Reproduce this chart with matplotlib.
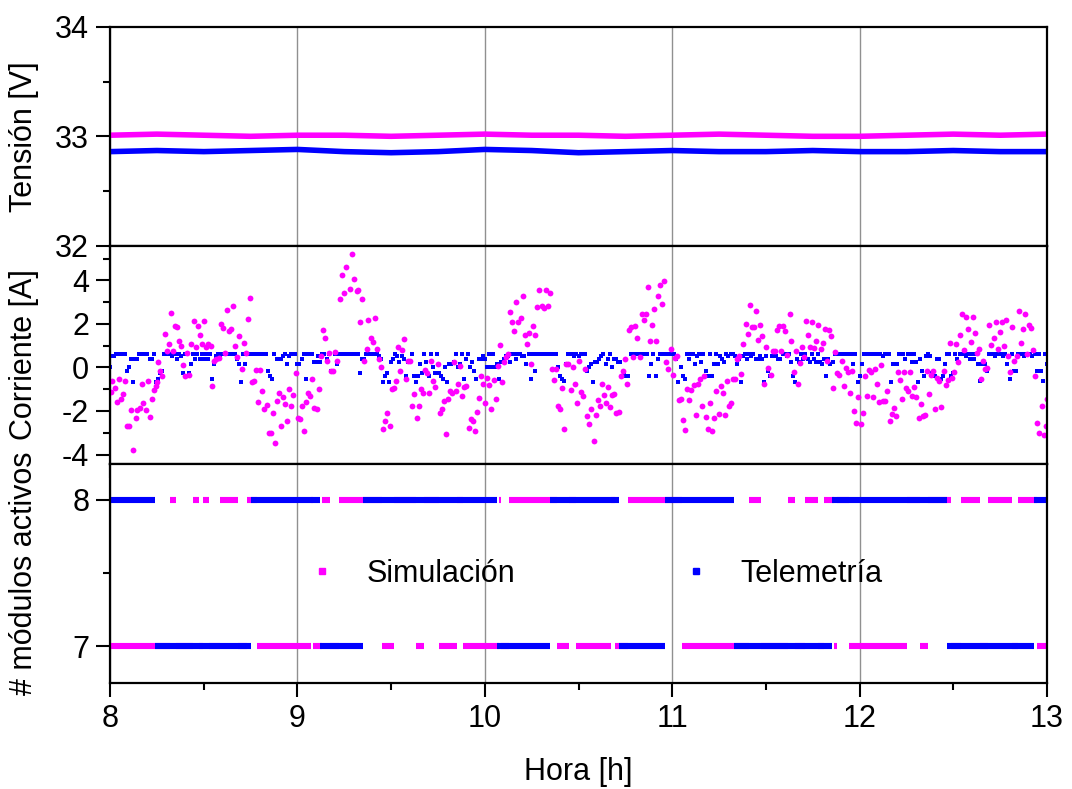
import matplotlib
matplotlib.use("Agg")
import matplotlib.pyplot as plt
import numpy as np
from matplotlib.lines import Line2D

plt.rcParams['font.family'] = ['Liberation Sans', 'DejaVu Sans']
plt.rcParams['axes.unicode_minus'] = False

MAGENTA = '#ff00ff'
BLUE = '#0000ff'

# ---- Tension [V] (sampled every 15 min) ----
volt_t = [8.0, 8.25, 8.5, 8.75, 9.0, 9.25, 9.5, 9.75, 10.0, 10.25, 10.5,
          10.75, 11.0, 11.25, 11.5, 11.75, 12.0, 12.25, 12.5, 12.75, 13.0]
volt_sim = [33.01, 33.02, 33.01, 33.00, 33.01, 33.01, 33.00, 33.01, 33.02, 33.01, 33.01,
            33.00, 33.01, 33.02, 33.01, 33.00, 33.00, 33.01, 33.02, 33.01, 33.02]
volt_tel = [32.86, 32.87, 32.86, 32.87, 32.88, 32.86, 32.85, 32.86, 32.88, 32.87, 32.85,
            32.86, 32.87, 32.86, 32.86, 32.87, 32.86, 32.86, 32.87, 32.86, 32.86]

# ---- Corriente [A], simulacion (hora, A) ----
curr_sim = [
    (8.007, -1.13), (8.012, -0.60), (8.025, -0.95), (8.037, -1.59), (8.046, -0.55),
    (8.057, -1.47), (8.069, -1.24), (8.078, -0.64), (8.091, -2.71), (8.101, -2.67),
    (8.112, -1.96), (8.123, -3.77), (8.137, -2.33), (8.146, -1.95), (8.158, -1.84),
    (8.169, -0.74), (8.178, -1.64), (8.190, -1.96), (8.203, -0.61), (8.213, -2.28),
    (8.224, -1.47), (8.235, -1.03), (8.244, -0.83), (8.249, -0.67), (8.258, 0.26),
    (8.269, -0.15), (8.278, -0.41), (8.292, 1.55), (8.302, 0.74), (8.313, 1.06),
    (8.324, 2.50), (8.336, 0.74), (8.345, 1.90), (8.358, 1.87), (8.368, 1.21),
    (8.381, 1.00), (8.391, 0.12), (8.402, -0.38), (8.413, 0.67), (8.423, -0.34),
    (8.434, 1.06), (8.447, 2.13), (8.457, 0.93), (8.468, 1.90), (8.479, 1.47),
    (8.491, 1.06), (8.503, 2.13), (8.514, 0.95), (8.525, 1.09), (8.537, 1.01),
    (8.546, -0.83), (8.555, 0.32), (8.567, 0.40), (8.580, 0.44), (8.591, 2.01),
    (8.603, 1.82), (8.612, 0.66), (8.624, 2.62), (8.635, 1.69), (8.646, 1.75),
    (8.658, 2.82), (8.669, 0.98), (8.680, 0.49), (8.690, 1.43), (8.703, -0.08),
    (8.713, 1.13), (8.724, 0.67), (8.735, 2.24), (8.747, 3.20), (8.758, -0.69),
    (8.768, -0.64), (8.779, -0.11), (8.792, -1.58), (8.802, -0.12), (8.813, -1.07),
    (8.824, -1.92), (8.836, -1.73), (8.847, -2.99), (8.857, -2.99), (8.868, -2.08),
    (8.879, -3.46), (8.891, -1.53), (8.902, -1.16), (8.913, -2.71), (8.925, -1.36),
    (8.936, -1.67), (8.946, -2.48), (8.957, -1.01), (8.968, -1.78), (8.978, -1.27),
    (8.991, -0.25), (9.003, -2.33), (9.014, -2.38), (9.025, -1.78), (9.037, -2.91),
    (9.048, -1.58), (9.058, -1.15), (9.069, -1.30), (9.080, -0.51), (9.091, -1.84),
    (9.103, -1.89), (9.114, -0.98), (9.124, 0.52), (9.135, 1.72), (9.146, 1.36),
    (9.158, 0.32), (9.169, 0.66), (9.179, -0.17), (9.192, -0.15), (9.203, 0.72),
    (9.213, 0.31), (9.226, 3.16), (9.236, 4.26), (9.247, 3.43), (9.258, 4.60),
    (9.281, 3.62), (9.290, 5.21), (9.304, 4.05), (9.316, 3.52), (9.325, 3.57),
    (9.336, 2.10), (9.347, 3.17), (9.357, 0.31), (9.370, 0.86), (9.379, 2.18),
    (9.391, 1.35), (9.402, 1.18), (9.412, 2.28), (9.425, 0.84), (9.437, 0.40),
    (9.446, 0.00), (9.459, -2.85), (9.469, -2.48), (9.480, -2.08), (9.492, -2.67),
    (9.503, -1.01), (9.514, -0.95), (9.524, -0.63), (9.535, 0.92), (9.548, -0.14),
    (9.558, 0.81), (9.571, 1.32), (9.580, -0.51), (9.592, 0.32), (9.603, 0.29),
    (9.613, -1.76), (9.624, -1.21), (9.636, -2.30), (9.647, -1.76), (9.660, -0.98),
    (9.670, -1.16), (9.681, -0.11), (9.693, -0.26), (9.704, -1.16), (9.715, 0.29),
    (9.725, -0.60), (9.736, -0.89), (9.749, 0.14), (9.759, -2.08), (9.770, -1.90),
    (9.781, -1.56), (9.791, -3.08), (9.804, -1.43), (9.814, -1.07), (9.825, -1.18),
    (9.836, 0.26), (9.846, -1.07), (9.859, -0.75), (9.870, 0.09), (9.880, -1.32),
    (9.891, -0.89), (9.902, -0.84), (9.914, -2.77), (9.925, -2.36), (9.935, -2.47),
    (9.946, -2.91), (9.958, -2.05), (9.969, -1.39), (9.980, -0.40), (9.991, -0.77),
    (10.003, -1.61), (10.014, -0.49), (10.024, -0.80), (10.035, -1.90), (10.047, -0.58),
    (10.058, -1.46), (10.069, 0.09), (10.080, 1.04), (10.092, -0.67), (10.103, 0.25),
    (10.113, 0.46), (10.124, 0.63), (10.135, 2.56), (10.147, 2.11), (10.158, 1.69),
    (10.168, 3.03), (10.179, 2.11), (10.192, 2.28), (10.202, 3.28), (10.213, 1.50),
    (10.224, 1.09), (10.234, 1.58), (10.247, 0.17), (10.259, 1.90), (10.268, 1.47),
    (10.279, 2.79), (10.291, 3.57), (10.304, 2.84), (10.314, 2.74), (10.325, 3.56),
    (10.336, 2.84), (10.348, 3.42), (10.359, -0.08), (10.369, -0.58), (10.380, -0.08),
    (10.393, -1.78), (10.403, -1.92), (10.414, -0.95), (10.425, -2.85), (10.435, 0.14),
    (10.446, 0.18), (10.458, -1.03), (10.469, 0.00), (10.480, -0.77), (10.492, -1.64),
    (10.503, 0.29), (10.514, -1.13), (10.524, -1.30), (10.533, -0.06), (10.547, -2.24),
    (10.558, -2.59), (10.568, -1.93), (10.581, -3.40), (10.592, -2.19), (10.602, -1.49),
    (10.615, -1.79), (10.625, -0.74), (10.636, -1.27), (10.647, -1.62), (10.659, -0.92),
    (10.670, -1.82), (10.681, -1.27), (10.691, -1.24), (10.702, -2.11), (10.714, -2.04),
    (10.725, -0.37), (10.736, -0.18), (10.746, 0.37), (10.759, -0.77), (10.770, 1.73),
    (10.780, 1.84), (10.793, 0.49), (10.803, 1.90), (10.814, 1.35), (10.826, 0.49),
    (10.837, 2.44), (10.848, 2.19), (10.858, 2.47), (10.869, 3.72), (10.882, 1.21),
    (10.892, 1.96), (10.903, 2.67), (10.914, 1.20), (10.926, 3.28), (10.937, 3.79),
    (10.947, 2.94), (10.958, 3.98), (10.969, 0.23), (10.979, -0.08), (10.992, 0.83),
    (11.003, -0.34), (11.015, 0.43), (11.026, 0.55), (11.036, -1.49), (11.047, -1.43),
    (11.060, -2.42), (11.070, -2.87), (11.081, -0.98), (11.092, -1.49), (11.102, -1.03),
    (11.115, -0.80), (11.125, -2.19), (11.136, -0.77), (11.147, -0.55), (11.159, -1.75),
    (11.170, -0.40), (11.180, -2.27), (11.191, -2.82), (11.204, -1.61), (11.214, -2.93),
    (11.225, -2.30), (11.236, -1.06), (11.248, -2.15), (11.259, -0.87), (11.269, -1.16),
    (11.280, -2.19), (11.293, -0.64), (11.303, -1.75), (11.314, -1.64), (11.326, -0.51),
    (11.337, -0.55), (11.348, 0.37), (11.358, 0.51), (11.369, -0.29), (11.380, 1.06),
    (11.392, 2.02), (11.403, 1.53), (11.414, 2.85), (11.424, 1.84), (11.435, 1.84),
    (11.447, 2.59), (11.458, 1.27), (11.469, 1.96), (11.481, 1.43), (11.492, -0.74),
    (11.503, 0.93), (11.513, -0.03), (11.526, -0.35), (11.536, 0.74), (11.547, 0.74),
    (11.559, 1.73), (11.570, 1.89), (11.581, 0.77), (11.592, 1.90), (11.604, 1.69),
    (11.615, 0.58), (11.627, 2.44), (11.636, 1.24), (11.648, -0.23), (11.659, 0.77),
    (11.670, -0.77), (11.682, 0.21), (11.693, 0.92), (11.704, 0.46), (11.714, 2.15),
    (11.727, 1.50), (11.737, 0.95), (11.748, 2.10), (11.759, 0.89), (11.769, 1.21),
    (11.780, 1.95), (11.794, 0.87), (11.805, 1.12), (11.815, 1.75), (11.828, 0.31),
    (11.837, 1.73), (11.849, 1.43), (11.860, -0.95), (11.871, 0.69), (11.881, -0.26),
    (11.892, -0.34), (11.904, 0.31), (11.915, -0.83), (11.926, -0.02), (11.936, -0.20),
    (11.949, -1.18), (11.959, -0.14), (11.970, -2.02), (11.981, -2.56), (11.993, -1.36),
    (12.006, -2.61), (12.016, -2.08), (12.027, -0.38), (12.038, -1.32), (12.048, -0.11),
    (12.061, -0.20), (12.072, -1.36), (12.082, -0.06), (12.093, -0.74), (12.105, -1.58),
    (12.116, 0.12), (12.127, -1.53), (12.137, -1.53), (12.148, -1.10), (12.160, -2.47),
    (12.171, -2.16), (12.182, -1.87), (12.194, -2.21), (12.205, -0.23), (12.216, -0.58),
    (12.228, -1.46), (12.237, -0.23), (12.249, -0.95), (12.260, -1.10), (12.271, -0.20),
    (12.281, -1.32), (12.292, -0.90), (12.303, -1.36), (12.315, -2.33), (12.326, -1.66),
    (12.337, -2.24), (12.349, -2.18), (12.360, -0.17), (12.370, -1.20), (12.381, -0.34),
    (12.394, -0.18), (12.404, -1.93), (12.415, -0.49), (12.426, -0.63), (12.436, -1.81),
    (12.449, -0.15), (12.459, -0.81), (12.470, -0.58), (12.482, 1.12), (12.493, -0.48),
    (12.504, -0.23), (12.515, 1.09), (12.525, 0.23), (12.538, 1.49), (12.548, 2.44),
    (12.559, 0.81), (12.570, 2.34), (12.580, 1.78), (12.593, 1.18), (12.604, 2.31),
    (12.616, 1.59), (12.627, 0.67), (12.637, 0.84), (12.648, -0.54), (12.660, 0.28),
    (12.671, -0.06), (12.682, -0.03), (12.692, 1.93), (12.703, 1.03), (12.716, 1.36),
    (12.726, 2.11), (12.737, 0.87), (12.749, 1.64), (12.760, 2.07), (12.771, 0.98),
    (12.781, 2.19), (12.794, 0.52), (12.804, -0.20), (12.815, 1.85), (12.826, 0.28),
    (12.838, 0.55), (12.849, 2.59), (12.860, 1.12), (12.870, 1.75), (12.883, 2.47),
    (12.893, 0.60), (12.904, 1.96), (12.915, 1.81), (12.927, 0.81), (12.938, -0.38),
    (12.949, -2.57), (12.959, -2.99), (12.972, -1.79), (12.982, -3.11), (12.993, -2.71),
    (12.999, -1.46),
]

# ---- Corriente [A], telemetria: one value every 40 s, 8:00 -> 13:00 ----
curr_tel = [
    0.00, 0.51, 0.51, 0.64, 0.64, 0.64, 0.64, 0.64, -0.14, 0.00, 0.37, -0.67, 0.37, 0.37, 0.64,
    0.64, 0.64, 0.64, 0.64, 0.37, 0.37, 0.64, -0.67, -0.52, -0.26, -0.14, 0.64, 0.64, 0.64, 0.64,
    0.51, 0.64, 0.37, 0.64, 0.51, -0.26, 0.64, -0.40, -0.26, 0.14, 0.64, 0.37, 0.64, 0.37, 0.64,
    0.37, 0.64, 0.37, 0.64, -0.52, 0.14, 0.51, 0.64, 0.51, 0.64, 0.64, 0.64, 0.64, 0.64, 0.64,
    0.64, 0.37, 0.14, -0.67, 0.64, 0.14, 0.64, 0.64, 0.64, 0.64, 0.64, 0.64, 0.64, 0.64, 0.64,
    0.64, -0.14, -0.40, -0.52, 0.64, 0.37, 0.37, 0.37, 0.51, 0.64, 0.14, 0.51, 0.64, 0.64, 0.64,
    0.14, 0.14, 0.37, 0.64, -0.52, 0.64, 0.64, 0.64, 0.25, 0.25, 0.51, 0.25, 0.64, 0.64, 0.37,
    0.64, -0.14, -0.14, 0.64, 0.14, 0.64, 0.64, 0.64, 0.64, 0.64, 0.64, 0.64, 0.64, 0.64, 0.64,
    -0.26, 0.37, 0.37, 0.64, 0.64, 0.64, 0.64, 0.64, 0.64, 0.51, 0.37, -0.67, -0.40, -0.26, -0.67,
    0.25, 0.37, 0.64, 0.51, 0.25, 0.51, 0.37, -0.40, 0.25, 0.25, 0.64, -0.40, -0.67, -0.40, 0.14,
    -0.26, 0.64, 0.25, -0.40, 0.64, 0.00, -0.26, 0.64, -0.26, -0.40, -0.52, 0.00, -0.67, 0.14, 0.14,
    0.25, 0.64, 0.00, 0.14, 0.64, -0.52, 0.37, 0.64, 0.00, 0.25, -0.14, -0.52, 0.37, 0.37, 0.51,
    0.37, 0.00, 0.64, 0.00, 0.64, 0.00, 0.14, -0.52, 0.25, 0.37, 0.51, 0.51, 0.25, 0.64, 0.64,
    0.37, 0.64, 0.64, 0.51, 0.51, 0.14, 0.64, -0.52, 0.64, -0.14, 0.64, 0.64, 0.64, 0.64, 0.64,
    0.64, 0.64, 0.64, 0.64, 0.64, 0.00, -0.40, -0.52, -0.60, 0.14, 0.64, 0.64, 0.64, 0.51, 0.64,
    0.51, 0.64, 0.64, 0.64, -0.14, 0.00, 0.14, -0.67, 0.25, 0.25, 0.37, 0.51, 0.64, 0.14, 0.37,
    0.64, 0.00, 0.37, 0.37, 0.25, 0.25, -0.40, -0.26, -0.40, -0.40, 0.64, 0.51, 0.64, 0.64, 0.64,
    0.51, 0.64, 0.64, 0.64, -0.40, 0.14, 0.64, -0.40, 0.37, 0.64, 0.64, 0.64, 0.64, 0.64, 0.64,
    0.64, 0.64, 0.37, -0.67, 0.00, -0.40, -0.52, 0.64, 0.37, 0.64, 0.64, 0.14, 0.51, 0.64, 0.25,
    0.64, -0.14, -0.40, 0.64, -0.40, 0.14, 0.64, 0.14, 0.51, 0.37, 0.25, 0.64, 0.51, 0.64, 0.64,
    0.51, 0.14, 0.37, -0.67, 0.51, 0.64, 0.37, 0.64, 0.51, 0.64, 0.37, 0.37, 0.51, 0.37, -0.67,
    0.51, -0.14, -0.40, 0.51, 0.64, 0.51, 0.37, 0.37, 0.64, 0.64, 0.51, 0.64, 0.25, -0.40, -0.67,
    0.37, 0.25, 0.64, 0.37, 0.64, 0.37, 0.25, 0.64, 0.37, 0.25, 0.64, 0.25, 0.14, 0.37, -0.40,
    0.37, 0.14, 0.25, 0.64, 0.64, 0.64, 0.64, 0.64, 0.64, 0.64, 0.64, 0.64, 0.14, 0.64, -0.67,
    -0.40, 0.14, 0.64, 0.64, 0.64, 0.64, 0.64, 0.64, 0.64, 0.64, 0.64, 0.51, 0.64, 0.64, 0.64,
    -0.67, 0.14, 0.14, 0.14, 0.64, 0.64, 0.64, 0.37, 0.64, 0.64, 0.25, 0.64, 0.25, -0.67, 0.37,
    -0.14, -0.40, 0.51, 0.64, 0.51, -0.26, -0.40, 0.37, 0.37, -0.52, -0.40, 0.14, 0.64, 0.64, -0.40,
    -0.26, 0.64, 0.37, 0.64, 0.64, 0.64, 0.51, 0.64, 0.37, 0.64, 0.37, 0.64, 0.14, -0.60, 0.14,
    0.14, -0.14, 0.64, 0.64, 0.64, 0.51, 0.64, 0.64, 0.64, 0.51, 0.64, 0.14, -0.52, 0.64, -0.14,
    -0.14, 0.64, 0.64, 0.64, 0.51, 0.64, 0.64, 0.64, 0.51, 0.64, -0.14, 0.64, -0.14, -0.60, 0.64,
    0.14,
]

# ---- modulos activos: change times [h] and module count of each run ----
mod_sim_t = [8.0, 8.32, 8.352, 8.441, 8.475, 8.495, 8.528, 8.585, 8.685, 8.731,
             8.786, 9.073, 9.085, 9.13, 9.174, 9.222, 9.453, 9.517, 9.631, 9.674,
             9.756, 9.852, 9.886, 10.076, 10.087, 10.129, 10.383, 10.449, 10.485, 10.673,
             10.695, 10.766, 11.054, 11.41, 11.474, 11.62, 11.655, 11.709, 11.776, 11.81,
             11.865, 11.878, 11.943, 12.251, 12.322, 12.363, 12.488, 12.541, 12.642, 12.687,
             12.811, 12.844, 12.945, 13.0]
mod_sim_n = [7, 8, 7, 8, 7, 8, 7, 8, 7, 8,
             7, 8, 7, 8, 7, 8, 7, 8, 7, 8,
             7, 8, 7, 8, 7, 8, 7, 8, 7, 8,
             7, 8, 7, 8, 7, 8, 7, 8, 7, 8,
             7, 8, 7, 8, 7, 8, 7, 8, 7, 8,
             7, 8, 7]
mod_tel_t = [8.0, 8.24, 8.75, 9.12, 9.35, 10.065, 10.35, 10.718, 10.963, 11.33,
             11.853, 12.467, 12.93, 13.0]
mod_tel_n = [8, 7, 8, 7, 8, 7, 8, 7, 8, 7, 8, 7, 8]

x_ticks = [8, 9, 10, 11, 12, 13]

fig = plt.figure(figsize=(10.72, 7.89), dpi=100)
gs = fig.add_gridspec(3, 1, left=0.1026, right=0.9767, top=0.9658, bottom=0.1344, hspace=0)
ax1 = fig.add_subplot(gs[0])
ax2 = fig.add_subplot(gs[1], sharex=ax1)
ax3 = fig.add_subplot(gs[2], sharex=ax1)

# tension
ax1.plot(volt_t, volt_sim, color=MAGENTA, lw=4.0, solid_capstyle='butt')
ax1.plot(volt_t, volt_tel, color=BLUE, lw=4.0, solid_capstyle='butt')
ax1.set_ylim(32, 34)
ax1.set_yticks([32, 33, 34])
ax1.set_yticks([32.5, 33.5], minor=True)
ax1.set_ylabel('Tensión [V]')

# corriente
t_sim, i_sim = np.array(curr_sim).T
t_tel = np.linspace(8, 13, len(curr_tel))
ax2.plot(t_tel, curr_tel, 's', color=BLUE, ms=2.8, mew=0)
ax2.plot(t_sim, i_sim, 'o', color=MAGENTA, ms=4.2, mew=0)
ax2.set_ylim(-4.45, 5.6)
ax2.set_yticks([-4, -2, 0, 2, 4])
ax2.set_yticks([-3, -1, 1, 3, 5], minor=True)
ax2.set_ylabel('Corriente [A]')

# modulos
for a, b, n in zip(mod_sim_t[:-1], mod_sim_t[1:], mod_sim_n):
    ax3.hlines(n, a, b, color=MAGENTA, lw=4.4)
for a, b, n in zip(mod_tel_t[:-1], mod_tel_t[1:], mod_tel_n):
    ax3.hlines(n, a, b, color=BLUE, lw=4.4)
ax3.set_ylim(6.75, 8.24)
ax3.set_yticks([7, 8])
ax3.set_yticks([7.5], minor=True)
ax3.set_ylabel('# módulos activos')
ax3.set_xlabel('Hora [h]', fontsize=22, labelpad=17)

handles = [Line2D([], [], marker='s', ls='none', color=MAGENTA, ms=4.5),
           Line2D([], [], marker='s', ls='none', color=BLUE, ms=4.5)]
ax3.legend(handles, ['Simulación', 'Telemetría'], ncol=2, frameon=False,
           loc='center', bbox_to_anchor=(0.509, 0.5), fontsize=22,
           columnspacing=4.9, handletextpad=0.45)

for ax in (ax1, ax2, ax3):
    ax.set_xlim(8, 13)
    ax.set_xticks(x_ticks)
    ax.set_xticks([8.5, 9.5, 10.5, 11.5, 12.5], minor=True)
    ax.grid(axis='x', which='major', color='#909090', lw=1)
    ax.set_axisbelow(True)
    ax.tick_params(axis='both', which='major', direction='out', length=10, width=1.5,
                   labelsize=22, pad=5, top=False, right=False)
    ax.tick_params(axis='both', which='minor', direction='out', length=5, width=1.5,
                   top=False, right=False)
    ax.yaxis.label.set_size(22)
    ax.yaxis.set_label_coords(-0.076, 0.5)
    for s in ax.spines.values():
        s.set_linewidth(1.6)
for ax in (ax1, ax2):
    ax.tick_params(axis='x', labelbottom=False)

fig.savefig('out.png', dpi=100)
